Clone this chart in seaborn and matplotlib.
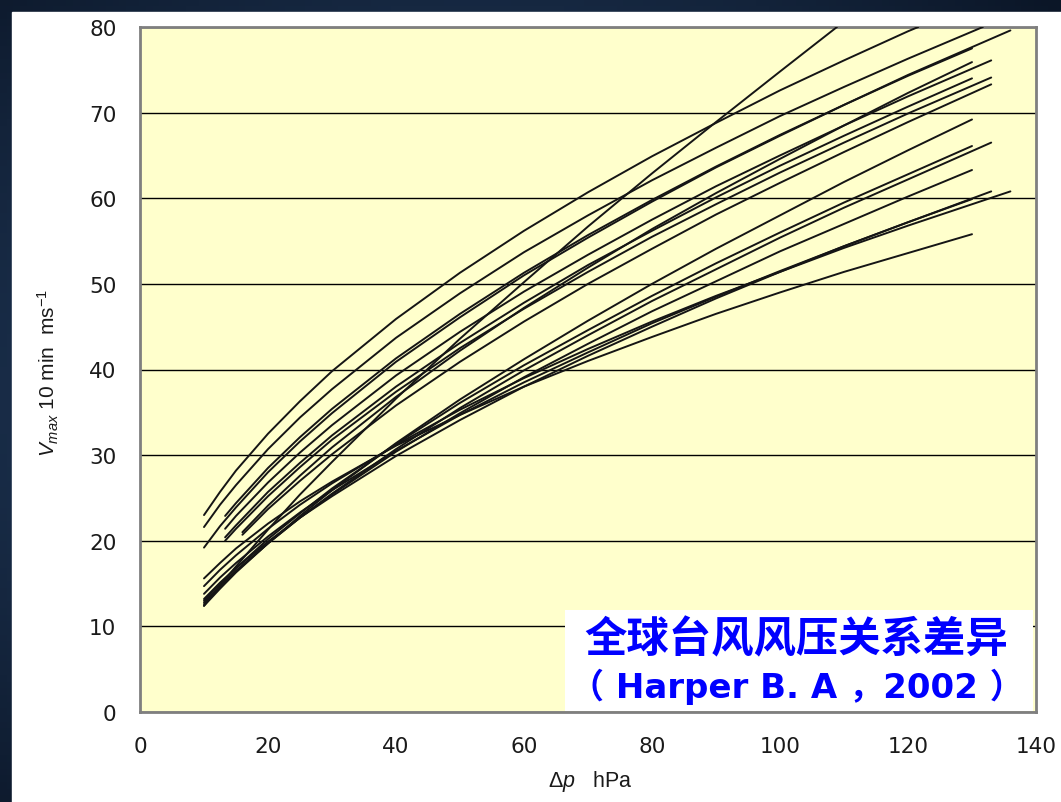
import numpy as np
import pandas as pd
import matplotlib.pyplot as plt
import seaborn as sns
from matplotlib.patches import Rectangle
from matplotlib.colors import LinearSegmentedColormap

# pressure deficit grids (hPa) the curves were read on
dp_from10 = [10, 12.5, 15, 20, 25, 30, 40, 50, 60, 70, 80, 90, 100, 110, 120]
dp_from13 = [13.3, 15, 20, 25, 30, 40, 50, 60, 70, 80, 90, 100, 110, 120]
dp_from16 = [16, 20, 25, 30, 40, 50, 60, 70, 80, 90, 100, 110, 120]

# Vmax (m/s), last value is the curve end
v01 = [23.0, 25.7, 28.2, 32.5, 36.3, 39.8, 45.9, 51.3, 56.2, 60.7, 64.9, 68.8, 72.6, 76.1, 79.5, 80.0]
v02 = [21.6, 24.2, 26.5, 30.7, 34.4, 37.7, 43.7, 48.9, 53.7, 58.0, 62.1, 65.9, 69.6, 73.0, 76.3, 80.0]
v03 = [12.4, 14.8, 17.0, 21.3, 25.4, 29.2, 36.6, 43.6, 50.2, 56.7, 62.9, 68.9, 74.8, 80.0]
v04 = [15.6, 17.4, 19.1, 22.0, 24.6, 26.9, 31.1, 34.7, 38.0, 41.0, 43.8, 46.5, 49.0, 51.4, 53.6, 55.8]
v05 = [22.9, 24.4, 28.5, 32.1, 35.4, 41.3, 46.5, 51.3, 55.7, 59.8, 63.7, 67.4, 70.9, 74.3, 77.5]
v06 = [21.4, 22.9, 26.8, 30.3, 33.5, 39.3, 44.4, 49.1, 53.4, 57.5, 61.4, 65.0, 68.5, 71.9, 76.1]
v07 = [20.4, 21.8, 25.7, 29.1, 32.3, 38.0, 43.1, 47.8, 52.2, 56.2, 60.1, 63.8, 67.3, 70.7, 74.0]
v08 = [21.0, 24.1, 27.6, 30.9, 36.8, 42.2, 47.2, 51.9, 56.4, 60.6, 64.6, 68.5, 72.3, 75.9]
v09 = [20.7, 23.7, 27.0, 30.1, 35.8, 40.9, 45.6, 50.0, 54.1, 58.1, 61.8, 65.4, 68.9, 73.3]
v10 = [19.2, 21.7, 23.9, 28.0, 31.6, 34.9, 40.9, 46.1, 51.0, 55.4, 59.6, 63.6, 67.3, 70.9, 74.4, 79.6]
v11 = [20.0, 21.4, 25.2, 28.6, 31.8, 37.4, 42.5, 47.1, 51.4, 55.5, 59.3, 63.0, 66.5, 69.9, 74.1]
v12 = [14.7, 16.6, 18.3, 21.4, 24.2, 26.7, 31.2, 35.3, 39.0, 42.4, 45.6, 48.6, 51.4, 54.2, 56.8, 60.8]
v13 = [13.8, 15.7, 17.4, 20.5, 23.3, 25.9, 30.5, 34.7, 38.5, 42.0, 45.4, 48.5, 51.5, 54.4, 57.2, 59.9]
v14 = [13.2, 15.1, 16.8, 19.9, 22.7, 25.2, 29.9, 34.1, 38.0, 41.6, 45.0, 48.3, 51.4, 54.4, 57.2, 60.8]
v15 = [12.8, 14.7, 16.5, 19.7, 22.7, 25.4, 30.4, 34.9, 39.1, 43.0, 46.8, 50.3, 53.8, 57.0, 60.2, 63.3]
v16 = [13.0, 15.0, 16.8, 20.2, 23.2, 26.1, 31.3, 36.1, 40.5, 44.6, 48.6, 52.4, 56.0, 59.5, 62.8, 66.1]
v17 = [12.6, 14.5, 16.4, 19.7, 22.7, 25.5, 30.7, 35.5, 39.9, 44.0, 48.0, 51.7, 55.4, 58.9, 62.2, 66.5]
v18 = [12.4, 14.4, 16.3, 19.7, 22.9, 25.9, 31.4, 36.5, 41.2, 45.7, 50.0, 54.1, 58.0, 61.9, 65.6, 69.2]

curves = [
    (dp_from10, 121.6, v01), (dp_from10, 131.7, v02), (dp_from10, 108.9, v03),
    (dp_from10, 130, v04), (dp_from13, 130, v05), (dp_from13, 133, v06),
    (dp_from13, 130, v07), (dp_from16, 130, v08), (dp_from16, 133, v09),
    (dp_from10, 136, v10), (dp_from13, 133, v11), (dp_from10, 136, v12),
    (dp_from10, 130, v13), (dp_from10, 133, v14), (dp_from10, 130, v15),
    (dp_from10, 130, v16), (dp_from10, 133, v17), (dp_from10, 130, v18),
]

rows = []
for k, (grid, end, vals) in enumerate(curves):
    dps = [d for d in grid if d < end] + [end]
    for d, v in zip(dps, vals):
        rows.append({'curve': k, 'dp': d, 'v': v})
df = pd.DataFrame(rows)

sns.set_style('white')
plt.rcParams['font.family'] = ['Liberation Sans', 'Noto Sans CJK SC', 'DejaVu Sans']
plt.rcParams['mathtext.fontset'] = 'custom'
plt.rcParams['mathtext.rm'] = 'Liberation Sans'
plt.rcParams['mathtext.it'] = 'Liberation Sans:italic'

fig = plt.figure(figsize=(10.61, 8.03), dpi=100)

# dark slide background + white panel
bg = fig.add_axes([0, 0, 1, 1], zorder=-10)
yy, xx = np.mgrid[0:1:120j, 0:1:160j]
rr = np.sqrt((xx - 0.45) ** 2 + (yy - 0.5) ** 2)
bg.imshow(rr, cmap=LinearSegmentedColormap.from_list('bg', ['#2c4c76', '#0b1627']),
          aspect='auto', extent=[0, 1, 0, 1])
bg.add_patch(Rectangle((12 / 1061, 0), 1, (803 - 13) / 803, color='white'))
bg.set_xlim(0, 1); bg.set_ylim(0, 1)
bg.axis('off')

ax = fig.add_axes([140 / 1061, 90 / 803, 896 / 1061, 685 / 803])
ax.set_facecolor('#ffffcc')
sns.lineplot(data=df, x='dp', y='v', units='curve', estimator=None, sort=False,
             color='#151515', lw=1.4, ax=ax, zorder=3)

ax.set_xlim(0, 140)
ax.set_ylim(0, 80)
ax.set_xticks(range(0, 141, 20))
ax.set_yticks(range(0, 81, 10))
ax.yaxis.grid(True, color='black', lw=1.0)
ax.xaxis.grid(False)
ax.set_axisbelow(True)
for s in ax.spines.values():
    s.set_color('#7f7f7f')
    s.set_linewidth(2)
ax.tick_params(direction='out', length=8, width=1.3, color='#555555',
               labelsize=15.5, labelcolor='#1a1a1a', pad=9)
for lab in ax.get_xticklabels() + ax.get_yticklabels():
    lab.set_family('DejaVu Sans')
ax.set_xlabel('')
ax.set_ylabel('')

fig.text(48 / 1061, (803 - 373) / 803, r'$V_{max}$ 10 min  ms$^{-1}$', rotation=90,
         ha='center', va='center', fontsize=15, color='#1a1a1a')
fig.text(590 / 1061, (803 - 782) / 803, r'$\Delta p$   hPa', ha='center', va='center',
         fontsize=15.5, color='#1a1a1a')

# caption box
ax.add_patch(Rectangle((66.4, 0.15), 73.1, 11.75, facecolor='white', edgecolor='none', zorder=5))
ax.text(102.6, 8.5, '全球台风风压关系差异', ha='center', va='center', fontsize=30.5,
        fontweight='heavy', color='#0000ff', family=['Noto Sans CJK SC'], zorder=6)
ax.text(102.6, 3.0, '（ Harper B. A ，2002 ）', ha='center', va='center', fontsize=24.5,
        fontweight='bold', color='#0000ff', family=['DejaVu Sans', 'Noto Sans CJK SC'], zorder=6)

fig.savefig('out.png', dpi=100)
